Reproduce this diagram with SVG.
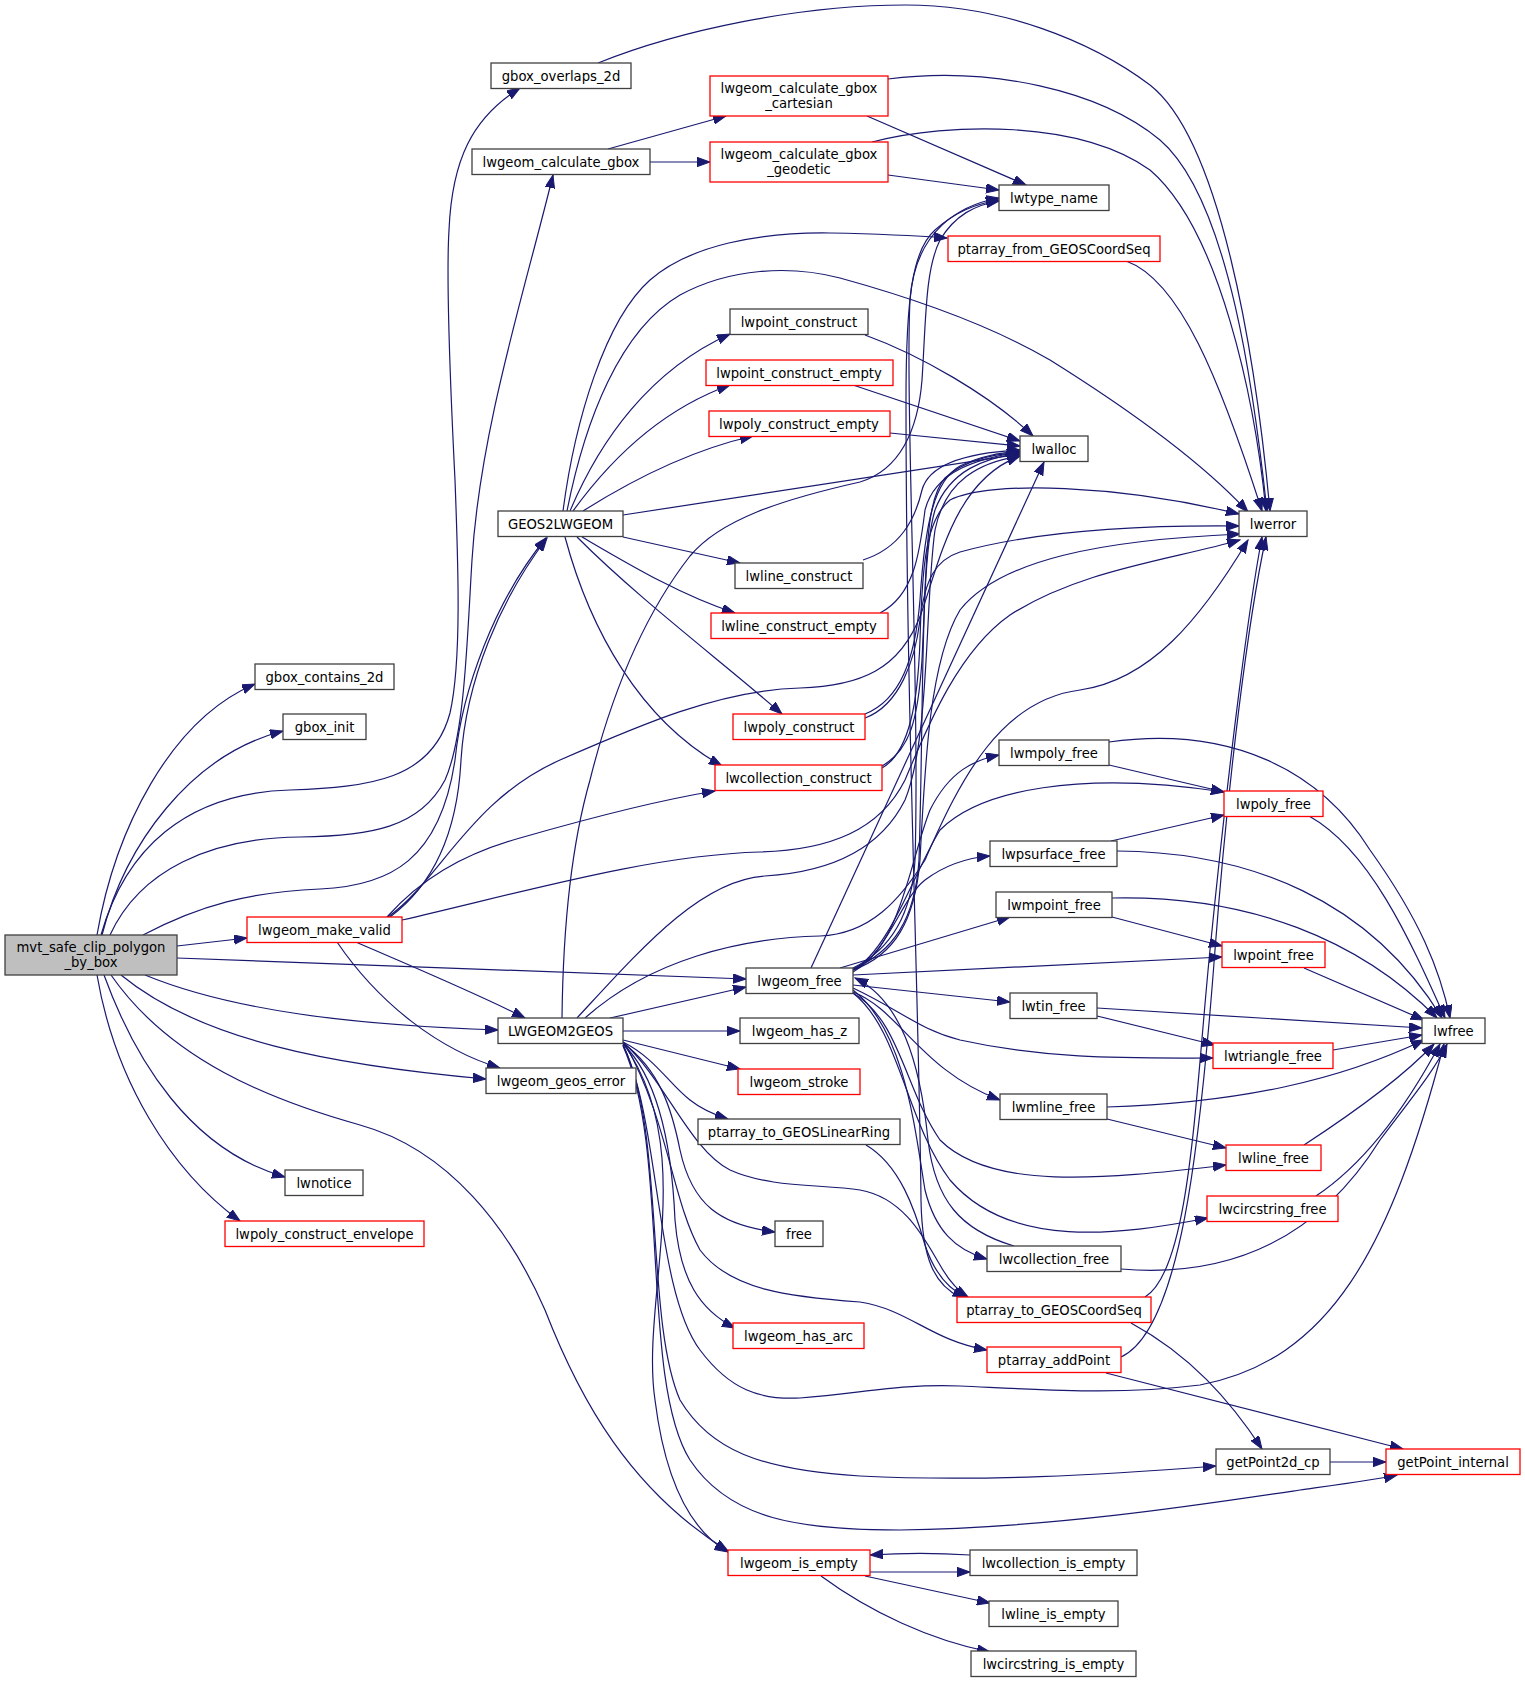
<svg xmlns="http://www.w3.org/2000/svg" width="1525" height="1683" viewBox="0 0 1525 1683">
<style>
.b{fill:#fff;stroke:#404040;stroke-width:1.3}
.r{fill:#fff;stroke:#ff0000;stroke-width:1.3}
.g{fill:#bfbfbf;stroke:#404040;stroke-width:1.3}
text{font-family:"DejaVu Sans","Liberation Sans",sans-serif;font-size:13.2px;fill:#000;text-anchor:middle}
#edges path{fill:none;stroke:#191970;stroke-width:1.2;marker-end:url(#ah)}
</style>
<defs>
<marker id="ah" markerWidth="14" markerHeight="10" refX="13" refY="4.7" orient="auto" markerUnits="userSpaceOnUse">
<path d="M0,0 L13,4.7 L0,9.4 z" fill="#191970" stroke="#191970" stroke-width="1"/>
</marker>
</defs>
<rect width="1525" height="1683" fill="#fff"/>
<g id="edges">
<path d="M101,935 C125,850 185,793 290,790 C370,787 432,780 450,713 C462,660 458,560 455,480 C450,380 446,280 449,230 C452,160 472,118 520,88"/>
<path d="M97,935 C115,830 170,720 255,684"/>
<path d="M102,935 C125,845 190,755 283,731"/>
<path d="M110,935 C140,870 210,838 300,837 C370,836 420,828 445,780 C465,735 467,640 472,560 C480,430 525,290 553,175"/>
<path d="M143,935 C200,905 250,892 320,889 C390,886 440,860 455,760 C462,690 495,600 546,538"/>
<path d="M177,946 L247,938"/>
<path d="M177,958 L746,979"/>
<path d="M145,975 C230,1010 350,1025 498,1030"/>
<path d="M121,975 C200,1040 330,1065 486,1079"/>
<path d="M111,975 C170,1060 270,1100 360,1125 C450,1150 510,1230 545,1310 C580,1400 630,1490 728,1551"/>
<path d="M104,975 C135,1060 190,1150 285,1177"/>
<path d="M97,975 C115,1080 170,1170 240,1221"/>
<path d="M390,917 C440,880 458,820 461,760 C466,680 500,600 547,538"/>
<path d="M387,917 C420,880 460,855 520,838 C600,815 660,800 715,791"/>
<path d="M402,920 C520,893 650,855 760,852 C830,850 880,830 905,780 C930,720 960,650 1010,615 C1080,570 1170,560 1240,540"/>
<path d="M388,917 C440,880 470,800 560,760 C640,725 720,690 800,688 C860,686 900,670 921,614 C940,560 955,480 1020,456"/>
<path d="M356,942 C420,970 480,995 525,1018"/>
<path d="M337,942 C380,1005 440,1050 500,1068"/>
<path d="M608,149 L726,116"/>
<path d="M650,162 L710,162"/>
<path d="M867,116 L1026,185"/>
<path d="M888,79 C990,66 1100,90 1160,140 C1230,200 1255,400 1267,511"/>
<path d="M888,175 L999,190"/>
<path d="M872,142 C950,122 1080,120 1150,170 C1220,230 1255,400 1266,511"/>
<path d="M598,63 C680,30 800,5 906,5 C1000,5 1090,40 1150,85 C1220,140 1255,350 1270,511"/>
<path d="M1126,261 C1180,280 1220,380 1262,511"/>
<path d="M563,511 C575,420 605,320 650,280 C690,245 760,232 830,233 C880,234 920,236 947,238"/>
<path d="M567,511 C585,420 620,330 680,295 C730,268 790,265 840,278 C920,300 990,325 1050,360 C1130,410 1200,460 1248,512"/>
<path d="M570,511 C600,440 650,370 730,334"/>
<path d="M573,511 C610,460 660,410 730,385"/>
<path d="M583,511 C640,475 700,448 753,436"/>
<path d="M623,515 L1020,454"/>
<path d="M623,537 L740,563"/>
<path d="M582,537 C630,565 680,595 735,613"/>
<path d="M577,537 C640,600 720,660 782,714"/>
<path d="M565,537 C590,630 640,720 722,766"/>
<path d="M865,335 C920,355 990,395 1033,436"/>
<path d="M853,385 L1020,441"/>
<path d="M890,433 L1020,446"/>
<path d="M863,560 C900,548 915,520 922,490 C930,460 980,452 1020,450"/>
<path d="M880,613 C915,595 920,550 925,510 C935,470 980,458 1020,452"/>
<path d="M865,714 C900,700 915,660 920,600 C925,520 935,480 960,466 C980,456 1000,453 1020,451"/>
<path d="M865,718 C900,705 915,660 920,620 C925,580 935,560 960,552 C1040,530 1140,525 1239,526"/>
<path d="M882,766 C910,750 918,720 922,660 C927,560 925,500 945,478 C965,460 990,455 1020,452"/>
<path d="M882,768 C910,752 918,700 920,640 C922,570 925,520 950,500 C990,480 1120,485 1239,514"/>
<path d="M853,968 C890,950 912,915 915,860 C920,700 905,400 910,300 C915,230 960,205 999,198"/>
<path d="M853,970 C895,955 915,920 920,860 C925,760 930,660 960,610 C1000,560 1100,540 1240,534"/>
<path d="M853,969 C893,952 915,920 919,860 C924,700 920,560 935,510 C950,470 985,458 1020,453"/>
<path d="M811,968 L1044,462"/>
<path d="M853,970 C900,950 910,860 930,810 C950,770 975,760 999,755"/>
<path d="M853,970 C890,950 915,870 940,830 C980,790 1080,770 1224,792"/>
<path d="M853,972 C890,950 900,900 925,880 C945,865 965,858 990,856"/>
<path d="M840,968 L1010,917"/>
<path d="M853,975 L1222,957"/>
<path d="M853,985 L1010,1002"/>
<path d="M853,988 C900,1010 920,1030 960,1040 C1050,1060 1130,1058 1213,1058"/>
<path d="M853,992 C900,1010 920,1070 1000,1100"/>
<path d="M853,993 C900,1020 905,1090 940,1140 C990,1190 1100,1180 1226,1165"/>
<path d="M853,993 C900,1030 905,1120 950,1180 C1010,1250 1120,1235 1208,1218"/>
<path d="M853,990 C905,1030 915,1130 925,1190 C935,1230 955,1250 987,1259"/>
<path d="M1014,1246 C960,1230 935,1200 928,1140 C920,1060 900,1000 855,978"/>
<path d="M1109,742 C1230,725 1320,770 1370,850 C1420,920 1440,970 1450,1018"/>
<path d="M1109,765 L1224,792"/>
<path d="M1111,841 L1224,815"/>
<path d="M1117,851 C1250,852 1370,900 1442,1018"/>
<path d="M1112,898 C1250,895 1360,940 1437,1018"/>
<path d="M1112,917 L1222,946"/>
<path d="M1309,816 C1370,850 1410,940 1445,1018"/>
<path d="M1304,968 L1424,1020"/>
<path d="M1097,1008 L1422,1028"/>
<path d="M1097,1016 L1215,1045"/>
<path d="M1333,1050 L1422,1035"/>
<path d="M1107,1107 C1240,1103 1340,1080 1424,1040"/>
<path d="M1107,1119 L1226,1148"/>
<path d="M1304,1145 C1350,1115 1400,1080 1434,1044"/>
<path d="M1316,1196 C1370,1160 1410,1100 1440,1044"/>
<path d="M1121,1269 C1250,1280 1330,1220 1380,1140 C1410,1100 1435,1070 1447,1044"/>
<path d="M562,1018 C563,930 570,850 590,780 C610,700 640,620 690,556 C720,520 780,500 860,482 C900,470 918,430 922,380 C926,320 925,270 940,240 C955,215 975,205 999,201"/>
<path d="M585,1018 C650,960 740,938 820,936 C870,934 900,900 925,860 C960,780 1000,700 1080,690 C1150,680 1200,620 1248,540"/>
<path d="M577,1018 C640,950 700,880 765,876 C830,872 880,850 905,800 C930,740 925,600 935,530 C945,480 980,462 1020,456"/>
<path d="M610,1018 L746,987"/>
<path d="M623,1031 L740,1031"/>
<path d="M623,1040 L740,1069"/>
<path d="M623,1042 C655,1058 670,1085 690,1100 C700,1108 712,1114 728,1119"/>
<path d="M623,1043 C660,1070 672,1110 680,1150 C692,1205 720,1225 775,1232"/>
<path d="M623,1044 C660,1080 672,1150 675,1220 C680,1280 700,1310 735,1328"/>
<path d="M623,1042 C665,1080 690,1150 730,1170 C770,1188 820,1184 860,1190 C905,1198 925,1240 940,1265 C950,1283 960,1292 968,1297"/>
<path d="M625,1044 C668,1120 672,1200 700,1250 C730,1290 790,1297 860,1302 C910,1310 930,1340 987,1350"/>
<path d="M623,1045 C660,1120 655,1290 700,1350 C730,1390 760,1400 800,1398 C870,1392 900,1384 960,1386 C1050,1390 1120,1395 1200,1385 C1330,1360 1390,1250 1444,1044"/>
<path d="M623,1045 C665,1130 645,1320 680,1400 C710,1450 760,1470 860,1476 C980,1482 1100,1475 1216,1466"/>
<path d="M623,1046 C670,1150 640,1380 690,1460 C730,1520 800,1530 900,1530 C1050,1528 1200,1505 1300,1490 C1350,1483 1380,1479 1397,1475"/>
<path d="M623,1043 C700,1150 640,1300 655,1400 C665,1480 690,1530 728,1552"/>
<path d="M866,1145 C900,1165 915,1210 925,1245 C935,1275 950,1290 966,1297"/>
<path d="M1145,1297 C1190,1270 1195,1100 1210,950 C1230,750 1250,600 1262,537"/>
<path d="M1121,1357 C1180,1330 1200,1150 1215,950 C1228,780 1248,620 1266,537"/>
<path d="M1131,1323 C1190,1355 1230,1400 1262,1449"/>
<path d="M1106,1373 L1403,1449"/>
<path d="M1330,1462 L1386,1462"/>
<path d="M960,1297 C935,1285 922,1260 921,1200 C919,1000 906,700 906,400 C906,300 912,250 935,230 C955,212 975,204 999,200"/>
<path d="M870,1572 L970,1572"/>
<path d="M970,1555 C940,1553 900,1553 870,1555"/>
<path d="M865,1576 L990,1603"/>
<path d="M821,1576 C870,1612 930,1640 990,1652"/>
</g>
<g id="n_mvt"><rect class="g" x="5" y="935" width="172" height="40"/><text x="91" y="951.5">mvt_safe_clip_polygon</text><text x="91" y="966.5">_by_box</text></g>
<g id="n_gbox_overlaps_2d"><rect class="b" x="491" y="63" width="140" height="25.5"/><text x="561" y="80.5">gbox_overlaps_2d</text></g>
<g id="n_lwgeom_calculate_gbox"><rect class="b" x="472" y="149" width="178" height="25.5"/><text x="561" y="166.5">lwgeom_calculate_gbox</text></g>
<g id="n_cartesian"><rect class="r" x="710" y="76" width="178" height="40"/><text x="799" y="92.5">lwgeom_calculate_gbox</text><text x="799" y="107.5">_cartesian</text></g>
<g id="n_geodetic"><rect class="r" x="710" y="142" width="178" height="40"/><text x="799" y="158.5">lwgeom_calculate_gbox</text><text x="799" y="173.5">_geodetic</text></g>
<g id="n_lwtype_name"><rect class="b" x="999" y="185" width="110" height="25.5"/><text x="1054" y="202.5">lwtype_name</text></g>
<g id="n_ptarray_from_GEOSCoordSeq"><rect class="r" x="948" y="236" width="212" height="25.5"/><text x="1054" y="253.5">ptarray_from_GEOSCoordSeq</text></g>
<g id="n_lwpoint_construct"><rect class="b" x="730" y="309" width="138" height="25.5"/><text x="799" y="326.5">lwpoint_construct</text></g>
<g id="n_lwpoint_construct_empty"><rect class="r" x="706" y="360" width="187" height="25.5"/><text x="799" y="377.5">lwpoint_construct_empty</text></g>
<g id="n_lwpoly_construct_empty"><rect class="r" x="709" y="411" width="181" height="25.5"/><text x="799" y="428.5">lwpoly_construct_empty</text></g>
<g id="n_lwalloc"><rect class="b" x="1020" y="436" width="68" height="25.5"/><text x="1054" y="453.5">lwalloc</text></g>
<g id="n_GEOS2LWGEOM"><rect class="b" x="498" y="511" width="125" height="25.5"/><text x="560.5" y="528.5">GEOS2LWGEOM</text></g>
<g id="n_lwerror"><rect class="b" x="1239" y="511" width="68" height="25.5"/><text x="1273" y="528.5">lwerror</text></g>
<g id="n_lwline_construct"><rect class="b" x="735" y="563" width="128" height="25.5"/><text x="799" y="580.5">lwline_construct</text></g>
<g id="n_lwline_construct_empty"><rect class="r" x="711" y="613" width="177" height="25.5"/><text x="799" y="630.5">lwline_construct_empty</text></g>
<g id="n_gbox_contains_2d"><rect class="b" x="255" y="664" width="139" height="25.5"/><text x="324.5" y="681.5">gbox_contains_2d</text></g>
<g id="n_lwpoly_construct"><rect class="r" x="733" y="714" width="132" height="25.5"/><text x="799" y="731.5">lwpoly_construct</text></g>
<g id="n_gbox_init"><rect class="b" x="283" y="714" width="83" height="25.5"/><text x="324.5" y="731.5">gbox_init</text></g>
<g id="n_lwmpoly_free"><rect class="b" x="999" y="740" width="110" height="25.5"/><text x="1054" y="757.5">lwmpoly_free</text></g>
<g id="n_lwcollection_construct"><rect class="r" x="715" y="765" width="167" height="25.5"/><text x="798.5" y="782.5">lwcollection_construct</text></g>
<g id="n_lwpoly_free"><rect class="r" x="1224" y="791" width="99" height="25.5"/><text x="1273.5" y="808.5">lwpoly_free</text></g>
<g id="n_lwpsurface_free"><rect class="b" x="990" y="841" width="127" height="25.5"/><text x="1053.5" y="858.5">lwpsurface_free</text></g>
<g id="n_lwmpoint_free"><rect class="b" x="996" y="892" width="116" height="25.5"/><text x="1054" y="909.5">lwmpoint_free</text></g>
<g id="n_lwgeom_make_valid"><rect class="r" x="247" y="917" width="155" height="25.5"/><text x="324.5" y="934.5">lwgeom_make_valid</text></g>
<g id="n_lwpoint_free"><rect class="r" x="1222" y="942" width="103" height="25.5"/><text x="1273.5" y="959.5">lwpoint_free</text></g>
<g id="n_lwgeom_free"><rect class="b" x="746" y="968" width="107" height="25.5"/><text x="799.5" y="985.5">lwgeom_free</text></g>
<g id="n_lwtin_free"><rect class="b" x="1010" y="993" width="87" height="25.5"/><text x="1053.5" y="1010.5">lwtin_free</text></g>
<g id="n_LWGEOM2GEOS"><rect class="b" x="498" y="1018" width="125" height="25.5"/><text x="560.5" y="1035.5">LWGEOM2GEOS</text></g>
<g id="n_lwgeom_has_z"><rect class="b" x="740" y="1018" width="119" height="25.5"/><text x="799.5" y="1035.5">lwgeom_has_z</text></g>
<g id="n_lwfree"><rect class="b" x="1422" y="1018" width="63" height="25.5"/><text x="1453.5" y="1035.5">lwfree</text></g>
<g id="n_lwtriangle_free"><rect class="r" x="1213" y="1043" width="120" height="25.5"/><text x="1273" y="1060.5">lwtriangle_free</text></g>
<g id="n_lwgeom_stroke"><rect class="r" x="738" y="1069" width="122" height="25.5"/><text x="799" y="1086.5">lwgeom_stroke</text></g>
<g id="n_lwgeom_geos_error"><rect class="b" x="486" y="1068" width="150" height="25.5"/><text x="561" y="1085.5">lwgeom_geos_error</text></g>
<g id="n_lwmline_free"><rect class="b" x="1000" y="1094" width="107" height="25.5"/><text x="1053.5" y="1111.5">lwmline_free</text></g>
<g id="n_ptarray_to_GEOSLinearRing"><rect class="b" x="698" y="1119" width="202" height="25.5"/><text x="799" y="1136.5">ptarray_to_GEOSLinearRing</text></g>
<g id="n_lwline_free"><rect class="r" x="1226" y="1145" width="95" height="25.5"/><text x="1273.5" y="1162.5">lwline_free</text></g>
<g id="n_lwnotice"><rect class="b" x="285" y="1170" width="78" height="25.5"/><text x="324" y="1187.5">lwnotice</text></g>
<g id="n_lwcircstring_free"><rect class="r" x="1207" y="1196" width="131" height="25.5"/><text x="1272.5" y="1213.5">lwcircstring_free</text></g>
<g id="n_free"><rect class="b" x="775" y="1221" width="48" height="25.5"/><text x="799" y="1238.5">free</text></g>
<g id="n_lwpoly_construct_envelope"><rect class="r" x="225" y="1221" width="199" height="25.5"/><text x="324.5" y="1238.5">lwpoly_construct_envelope</text></g>
<g id="n_lwcollection_free"><rect class="b" x="987" y="1246" width="134" height="25.5"/><text x="1054" y="1263.5">lwcollection_free</text></g>
<g id="n_ptarray_to_GEOSCoordSeq"><rect class="r" x="957" y="1297" width="194" height="25.5"/><text x="1054" y="1314.5">ptarray_to_GEOSCoordSeq</text></g>
<g id="n_lwgeom_has_arc"><rect class="r" x="733" y="1323" width="131" height="25.5"/><text x="798.5" y="1340.5">lwgeom_has_arc</text></g>
<g id="n_ptarray_addPoint"><rect class="r" x="987" y="1347" width="134" height="25.5"/><text x="1054" y="1364.5">ptarray_addPoint</text></g>
<g id="n_getPoint2d_cp"><rect class="b" x="1216" y="1449" width="114" height="25.5"/><text x="1273" y="1466.5">getPoint2d_cp</text></g>
<g id="n_getPoint_internal"><rect class="r" x="1386" y="1449" width="134" height="25.5"/><text x="1453" y="1466.5">getPoint_internal</text></g>
<g id="n_lwgeom_is_empty"><rect class="r" x="728" y="1550" width="142" height="25.5"/><text x="799" y="1567.5">lwgeom_is_empty</text></g>
<g id="n_lwcollection_is_empty"><rect class="b" x="970" y="1550" width="167" height="25.5"/><text x="1053.5" y="1567.5">lwcollection_is_empty</text></g>
<g id="n_lwline_is_empty"><rect class="b" x="989" y="1601" width="129" height="25.5"/><text x="1053.5" y="1618.5">lwline_is_empty</text></g>
<g id="n_lwcircstring_is_empty"><rect class="b" x="971" y="1651" width="165" height="25.5"/><text x="1053.5" y="1668.5">lwcircstring_is_empty</text></g>
</svg>
